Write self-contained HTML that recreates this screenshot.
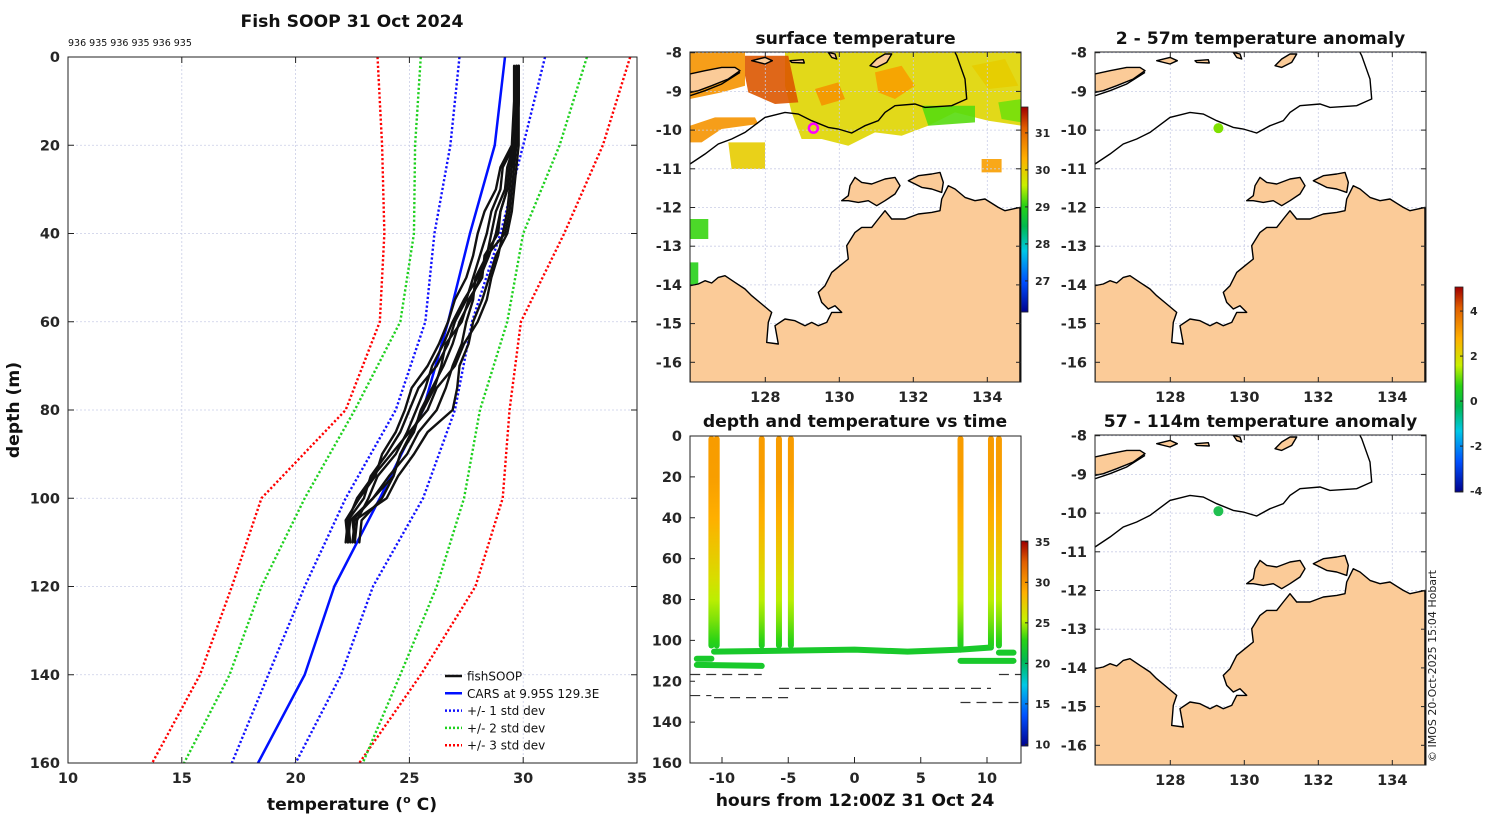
<!DOCTYPE html>
<html><head><meta charset="utf-8"><style>
html,body{margin:0;padding:0;background:#fff;}
svg{display:block;font-family:"DejaVu Sans","Liberation Sans",sans-serif;}
.t{font-weight:bold;fill:#262626;font-size:14.5px;}
.ttl{font-weight:bold;fill:#111;font-size:17.2px;}
</style></head><body>
<svg id="fig" width="1500" height="820" viewBox="0 0 1500 820" xmlns="http://www.w3.org/2000/svg">
<defs>
<clipPath id="clipL"><rect x="68" y="57" width="569" height="706"/></clipPath>
<clipPath id="clipT"><rect x="690" y="436" width="331" height="327"/></clipPath>
</defs>
<text x="352" y="27" text-anchor="middle" class="ttl">Fish SOOP 31 Oct 2024</text>
<text x="68" y="46" font-size="9.5" fill="#111">936 935 936 935 936 935</text>
<g id="left"></g>
<g id="maps"></g>
<g id="tplot"></g>
<text transform="translate(1436,762) rotate(-90)" font-size="11" fill="#222">© IMOS 20-Oct-2025 15:04 Hobart</text>
</svg>
<script>
// ---------- data: left profile chart ----------
const depthLevels=[0,20,40,60,80,100,120,140,160];
const carsMean=[29.2,28.75,27.66,26.7,25.6,23.7,21.7,20.4,18.35];
const plus1=[30.96,30.0,29.0,27.75,27.0,25.6,23.4,22.0,20.0];
const minus1=[27.2,26.8,26.1,25.7,24.4,22.2,20.4,18.8,17.2];
const plus2=[32.8,31.6,30.0,29.3,28.1,27.4,26.2,24.6,22.95];
const minus2=[25.5,25.25,25.2,24.6,22.6,20.4,18.5,17.1,15.1];
const plus3=[34.7,33.5,31.8,29.9,29.4,29.1,27.9,25.5,22.8];
const minus3=[23.6,23.8,23.9,23.7,22.2,18.5,17.2,15.8,13.7];
const fishDepths=[2,10,20,25,30,35,40,45,50,55,60,65,70,75,80,85,90,95,100,105,110];
const fishProfiles=[
[29.8,29.8,29.7,29.4,29.3,29.0,28.9,28.3,28.2,27.6,27.3,26.6,26.4,26.1,25.6,25.1,24.6,24.3,23.4,22.4,22.3],
[29.7,29.7,29.6,29.1,29.0,28.6,28.4,28.1,27.8,27.5,27.0,26.7,26.2,25.4,25.0,24.6,24.0,23.3,23.0,22.3,22.4],
[29.8,29.8,29.8,29.7,29.6,29.5,29.3,28.8,28.5,28.2,27.8,27.6,27.2,27.1,26.9,25.8,25.2,24.5,24.0,22.6,22.5],
[29.6,29.6,29.5,29.0,28.8,28.3,28.0,27.8,27.5,27.0,26.7,26.3,25.8,25.1,24.8,24.4,23.8,23.5,22.8,22.2,22.3],
[29.8,29.8,29.7,29.6,29.5,29.4,29.2,28.4,27.9,27.8,27.5,27.3,26.9,26.6,26.2,25.4,24.9,24.1,23.4,22.5,22.6],
[29.7,29.7,29.6,29.3,29.2,28.8,28.6,28.4,28.0,27.4,26.9,26.5,26.0,25.7,25.3,24.9,24.4,23.6,23.2,22.7,22.6],
[29.8,29.8,29.7,29.5,29.4,29.3,29.1,28.9,28.6,28.4,28.0,27.4,27.0,26.2,25.8,25.0,24.2,23.4,22.7,22.3,22.2],
[29.7,29.7,29.6,29.4,29.3,29.0,28.8,28.5,28.1,27.7,27.2,26.9,26.5,26.0,25.5,25.2,24.6,24.3,23.8,22.9,22.8]
];
const tempTicks=[10,15,20,25,30,35];
const depthTicks=[0,20,40,60,80,100,120,140,160];
// ---------- data: time plot ----------
const castHours=[-10.8,-10.4,-7.0,-5.7,-4.8,8.0,10.3,10.9];
const barDepths=[0,20,40,60,70,80,90,100,104];
const barTemps=[29.7,29.6,28.8,27.3,26.4,25.3,24.3,23.0,22.2];
const trackSegs=[
 {h:[-11.9,-10.8],d:[109,109]},
 {h:[-11.9,-7.0],d:[112,112.5]},
 {h:[-10.6,-5,0,4,8.0],d:[105.5,105,104.5,105.5,104.5]},
 {h:[8.0,10.3],d:[104.5,103.5]},
 {h:[10.9,12.0],d:[106,106]},
 {h:[8.0,12.0],d:[110,110]}
];
const trackTemp=22.0;
const dashSegs=[{h:[-12.4,-7.0],d:116.7},{h:[-12.4,-10.8],d:127},{h:[-10.6,-5.0],d:128},{h:[-5.7,10.3],d:123.5},{h:[10.9,12.6],d:116.7},{h:[8.0,12.6],d:130.4}];
const hourTicks=[-10,-5,0,5,10];
const tDepthTicks=[0,20,40,60,80,100,120,140,160];
// ---------- colorbars ----------
const cb1Ticks=[27,28,29,30,31];
const cb2Ticks=[10,15,20,25,30,35];
const cb3Ticks=[-4,-2,0,2,4];
const latTicks=[-8,-9,-10,-11,-12,-13,-14,-15,-16];
const lonTicks=[128,130,132,134];
const shipLon=129.3, shipLat=-9.95;

const NS="http://www.w3.org/2000/svg";
function el(tag,attrs,parent){const e=document.createElementNS(NS,tag);for(const k in attrs)e.setAttribute(k,attrs[k]);(parent||document.getElementById('fig')).appendChild(e);return e;}
const stops=[[0,[0,0,140]],[0.15,[0,80,255]],[0.3,[0,200,230]],[0.42,[0,185,80]],[0.52,[40,210,20]],[0.62,[200,240,0]],[0.75,[255,176,0]],[0.9,[225,95,0]],[1,[160,0,0]]];
function cmap(t){t=Math.max(0,Math.min(1,t));for(let i=1;i<stops.length;i++){if(t<=stops[i][0]){const a=stops[i-1],b=stops[i];const f=(t-a[0])/(b[0]-a[0]);const c=a[1].map((v,j)=>Math.round(v+(b[1][j]-v)*f));return `rgb(${c[0]},${c[1]},${c[2]})`;}}return 'rgb(160,0,0)';}

// ---------- left chart ----------
const L=document.getElementById('left');
const xL=t=>68+(t-10)*(569/25), yL=d=>57+d*(706/160);
tempTicks.forEach(t=>{const g=el('line',{x1:xL(t),x2:xL(t),y1:57,y2:763,stroke:'#c9cde6','stroke-width':0.8,'stroke-dasharray':'2 2'},L);


const tx=el('text',{x:xL(t),y:783,'text-anchor':'middle',class:'t'},L);tx.textContent=t;


el('line',{x1:xL(t),x2:xL(t),y1:763,y2:757,stroke:'#222'},L);el('line',{x1:xL(t),x2:xL(t),y1:57,y2:63,stroke:'#222'},L);});
depthTicks.forEach(d=>{const g=el('line',{x1:68,x2:637,y1:yL(d),y2:yL(d),stroke:'#c9cde6','stroke-width':0.8,'stroke-dasharray':'2 2'},L);


const tx=el('text',{x:60,y:yL(d)+5,'text-anchor':'end',class:'t'},L);tx.textContent=d;


el('line',{x1:68,x2:74,y1:yL(d),y2:yL(d),stroke:'#222'},L);el('line',{x1:631,x2:637,y1:yL(d),y2:yL(d),stroke:'#222'},L);});
const gl=el('g',{'clip-path':'url(#clipL)'},L);
function prof(arr,deps,color,dash,w,name){const p=el('polyline',{points:arr.map((t,i)=>xL(t)+','+yL(deps[i])).join(' '),fill:'none',stroke:color,'stroke-width':w,'stroke-linejoin':'round'},gl);if(dash)p.setAttribute('stroke-dasharray',dash);else p.setAttribute('stroke-linecap','round');

}
prof(plus3,depthLevels,'#f00','2.2 2.2',2.4,'plus-3-std-line');prof(minus3,depthLevels,'#f00','2.2 2.2',2.4,'minus-3-std-line');
prof(plus2,depthLevels,'#1ed01e','2.2 2.2',2.4,'plus-2-std-line');prof(minus2,depthLevels,'#1ed01e','2.2 2.2',2.4,'minus-2-std-line');
prof(plus1,depthLevels,'#1010ff','2.2 2.2',2.4,'plus-1-std-line');prof(minus1,depthLevels,'#1010ff','2.2 2.2',2.4,'minus-1-std-line');
prof(carsMean,depthLevels,'#0010ff',null,2.5,'cars-mean-line');
fishProfiles.forEach(p=>prof(p,fishDepths,'#111',null,2.4,'fishsoop-profile'));
const bx=el('rect',{x:68,y:57,width:569,height:706,fill:'none',stroke:'#222','stroke-width':1},L);


const xl=el('text',{x:352,y:810,'text-anchor':'middle',class:'ttl'},L);xl.innerHTML='temperature (<tspan dy="-7" font-size="11">o</tspan><tspan dy="7"> C)</tspan>';


const yl=el('text',{transform:'translate(19,410) rotate(-90)','text-anchor':'middle',class:'ttl'},L);yl.textContent='depth (m)';


const legBox=el('g',{},L);


[['fishSOOP','#111',null],['CARS at 9.95S 129.3E','#0010ff',null],['+/- 1 std dev','#1010ff','2 2'],['+/- 2 std dev','#1ed01e','2 2'],['+/- 3 std dev','#f00','2 2']].forEach((e,i)=>{const y=676+i*17.3;
const ln=el('line',{x1:445,x2:462,y1:y,y2:y,stroke:e[1],'stroke-width':2.5},legBox);if(e[2])ln.setAttribute('stroke-dasharray',e[2]);
const tx=el('text',{x:467,y:y+4.5,'font-size':12,fill:'#111'},legBox);tx.textContent=e[0];

});

// ---------- maps ----------
const Z=(pts)=>pts.map(p=>[p[0]/3-5,p[1]/3-6.3]);
const mainland=Z([[15,790],[15,720],[40,715],[60,705],[80,712],[100,695],[120,690],[150,710],[180,730],[200,750],[230,775],[260,800],[250,830],[245,890],[280,895],[270,840],[300,820],[330,825],[360,840],[380,830],[400,840],[425,830],[440,800],[470,800],[450,780],[430,790],[410,770],[400,740],[420,720],[440,680],[465,660],[490,640],[485,600],[510,560],[530,545],[560,545],[580,520],[600,495],[620,520],[660,520],[700,505],[740,500],[765,495],[770,460],[790,420],[810,430],[840,455],[870,465],[900,460],[940,485],[960,495],[1005,485],[1005,1010],[15,1010]]);
const isl1=Z([[470,465],[490,450],[495,420],[510,395],[530,410],[560,415],[600,400],[630,395],[645,420],[630,445],[600,465],[575,480],[550,465],[520,470],[490,465]]);
const isl2=Z([[670,405],[700,390],[740,385],[765,380],[775,410],[770,440],[740,430],[710,425],[690,415]]);
const timor=Z([[15,85],[60,75],[110,65],[150,65],[165,75],[130,100],[80,120],[40,135],[15,140]]);
const smallIsl=[Z([[200,45],[240,35],[262,45],[240,55]]),Z([[315,45],[355,42],[358,52],[320,50]]),Z([[430,20],[450,25],[455,40],[440,35]]),Z([[555,60],[575,40],[600,25],[620,25],[605,50],[575,65]])];
const contour=Z([[15,355],[60,325],[100,295],[140,280],[180,260],[240,215],[300,200],[340,205],[380,225],[430,245],[460,250],[500,262],[540,240],[580,225],[600,200],[630,180],[690,175],[720,185],[800,180],[845,160],[840,100],[815,30],[810,20]]);
const timorLine=Z([[15,150],[60,135],[110,115],[165,80]]);
const Z1=(pts)=>pts.map(p=>[p[0]/3-1.7,p[1]/3-6.3]);
const sstPatches=[
 [Z1([[290,20],[1000,20],[1000,240],[900,225],[800,200],[720,240],[640,270],[560,260],[480,300],[400,280],[340,280],[310,200],[290,120]]),29.9],
 [Z1([[5,20],[170,20],[170,120],[100,140],[5,160]]),30.6],
 [Z1([[170,30],[300,30],[330,170],[260,175],[180,140],[170,90]]),31.2],
 [Z1([[560,80],[640,60],[680,120],[620,160],[570,140]]),30.5],
 [Z1([[380,130],[450,110],[470,160],[400,180]]),30.6],
 [Z1([[850,60],[950,40],[990,120],[900,130]]),30.0],
 [Z1([[700,180],[860,180],[860,230],[720,240]]),29.2],
 [Z1([[930,170],[1000,160],[1000,230],[940,220]]),29.3],
 [Z1([[5,240],[80,215],[200,215],[210,235],[100,250],[40,290],[5,290]]),30.6],
 [Z1([[120,290],[230,290],[230,370],[130,370]]),30.0],
 [Z1([[5,520],[60,520],[60,580],[5,580]]),29.1],
 [Z1([[880,340],[940,340],[940,380],[880,380]]),30.5],
 [Z1([[5,650],[30,650],[30,740],[5,740]]),29.0]
];
const lonX=lon=>75.3+(lon-128)*37, latY=lat=>0.7+(-8-lat)*38.7;
const M=document.getElementById('maps');
const P=a=>a.map(p=>p[0].toFixed(1)+','+p[1].toFixed(1)).join(' ');
function drawMap(ox,oy,title,ttlY,sst,marker,name){
 const g=el('g',{transform:`translate(${ox},${oy})`},M);
 
 
 const cp=el('clipPath',{id:'cp'+name},g);el('rect',{x:0,y:0,width:331,height:330},cp);
 const inner=el('g',{'clip-path':`url(#cp${name})`},g);
 if(sst){sst.forEach(s=>{const pp=el('polygon',{points:P(s[0]),fill:cmap((s[1]-26.16)/(31.7-26.16)),opacity:0.9},inner);
 
 });}
 latTicks.forEach(l=>{el('line',{x1:0,x2:331,y1:latY(l),y2:latY(l),stroke:'#c9cde6','stroke-width':0.8,'stroke-dasharray':'2 2'},inner);
  const tx=el('text',{x:-8,y:latY(l)+5,'text-anchor':'end',class:'t'},g);tx.textContent=l;
  
  
  el('line',{x1:0,x2:5,y1:latY(l),y2:latY(l),stroke:'#222'},g);el('line',{x1:326,x2:331,y1:latY(l),y2:latY(l),stroke:'#222'},g);});
 lonTicks.forEach(l=>{el('line',{x1:lonX(l),x2:lonX(l),y1:0,y2:330,stroke:'#c9cde6','stroke-width':0.8,'stroke-dasharray':'2 2'},inner);
  const tx=el('text',{x:lonX(l),y:350,'text-anchor':'middle',class:'t'},g);tx.textContent=l;
  
  
  el('line',{x1:lonX(l),x2:lonX(l),y1:325,y2:330,stroke:'#222'},g);el('line',{x1:lonX(l),x2:lonX(l),y1:0,y2:5,stroke:'#222'},g);});
 [mainland,isl1,isl2,timor,...smallIsl].forEach(a=>{const pp=el('polygon',{points:P(a),fill:'#fbcb98',stroke:'#000','stroke-width':1.4,'stroke-linejoin':'round'},inner);
  
  });
 const c=el('polyline',{points:P(contour),fill:'none',stroke:'#000','stroke-width':1.4},inner);
 
 
 el('polyline',{points:P(timorLine),fill:'none',stroke:'#000','stroke-width':1.4},inner);
 const mk=el('circle',marker,g);mk.setAttribute('cx',lonX(shipLon));mk.setAttribute('cy',latY(shipLat));
 
 
 el('rect',{x:0,y:0,width:331,height:330,fill:'none',stroke:'#222'},g);
 const t=el('text',{x:165.5,y:ttlY,'text-anchor':'middle',class:'ttl'},g);t.textContent=title;
 
 
}
drawMap(690,52,'surface temperature',-8,sstPatches,{r:4.5,fill:'none',stroke:'#f0f','stroke-width':2.5},'sst-map');
drawMap(1095,52,'2 - 57m temperature anomaly',-8,null,{r:5,fill:'#7fe000'},'anomaly-map-upper');
drawMap(1095,435,'57 - 114m temperature anomaly',-8,null,{r:5,fill:'#20c050'},'anomaly-map-lower');

// colorbars
function colorbar(x,y,w,h,vmin,vmax,ticks,name){
 const g=el('g',{},M);
 
 
 for(let i=0;i<h;i++){el('rect',{x:x,y:y+i,width:w,height:1.3,fill:cmap(1-i/h)},g);}
 el('rect',{x:x,y:y,width:w,height:h,fill:'none',stroke:'#222','stroke-width':0.8},g);
 ticks.forEach(v=>{const yy=y+h-(v-vmin)/(vmax-vmin)*h;el('line',{x1:x+w-3,x2:x+w,y1:yy,y2:yy,stroke:'#222'},g);
  const tx=el('text',{x:x+w+7,y:yy+4,'font-size':11,'font-weight':'bold',fill:'#262626'},g);tx.textContent=v;
  
  });
}
colorbar(1021,107,7,205,26.16,31.7,cb1Ticks,'sst-colorbar');
colorbar(1455,287,8,205,-4.04,5.07,cb3Ticks,'anomaly-colorbar');
colorbar(1021,541,7,205,9.8,35.1,cb2Ticks,'time-plot-colorbar');

// ---------- time plot ----------
const T=document.getElementById('tplot');
const xT=h=>854.5+h*13.25, yT=d=>436+d*(327/160);
const tc=t=>cmap((t-9.8)/(35.1-9.8));
hourTicks.forEach(h=>{const tx=el('text',{x:xT(h),y:783,'text-anchor':'middle',class:'t'},T);tx.textContent=h;
 
 
 el('line',{x1:xT(h),x2:xT(h),y1:763,y2:757,stroke:'#222'},T);});
tDepthTicks.forEach(d=>{const tx=el('text',{x:682,y:yT(d)+5,'text-anchor':'end',class:'t'},T);tx.textContent=d;
 
 
 el('line',{x1:690,x2:695,y1:yT(d),y2:yT(d),stroke:'#222'},T);});
const gt=el('g',{'clip-path':'url(#clipT)'},T);
dashSegs.forEach(s=>{const l=el('line',{x1:xT(s.h[0]),x2:xT(s.h[1]),y1:yT(s.d),y2:yT(s.d),stroke:'#333','stroke-width':1.2,'stroke-dasharray':'10 6'},gt);
 
 });
trackSegs.forEach(s=>{const l=el('polyline',{points:s.h.map((h,i)=>xT(h)+','+yT(s.d[i])).join(' '),fill:'none',stroke:tc(trackTemp),'stroke-width':6,'stroke-linecap':'round'},gt);
 
 });
const barGrad=el('linearGradient',{id:'barGrad',x1:0,y1:0,x2:0,y2:1,gradientUnits:'objectBoundingBox'},document.querySelector('defs'));
barDepths.forEach((d,i)=>{el('stop',{offset:(d/barDepths[barDepths.length-1]).toFixed(3),'stop-color':tc(barTemps[i])},barGrad);});
castHours.forEach((h,ci)=>{
 const r=el('rect',{x:xT(h)-3,y:yT(barDepths[0]),width:6,height:yT(barDepths[barDepths.length-1])-yT(barDepths[0]),rx:3,fill:'url(#barGrad)'},gt);
 
 });
el('rect',{x:690,y:436,width:331,height:327,fill:'none',stroke:'#222'},T);
const tt=el('text',{x:855,y:427,'text-anchor':'middle',class:'ttl'},T);tt.textContent='depth and temperature vs time';


const tx2=el('text',{x:855,y:806,'text-anchor':'middle',class:'ttl'},T);tx2.textContent='hours from 12:00Z 31 Oct 24';


</script>
</body></html>
